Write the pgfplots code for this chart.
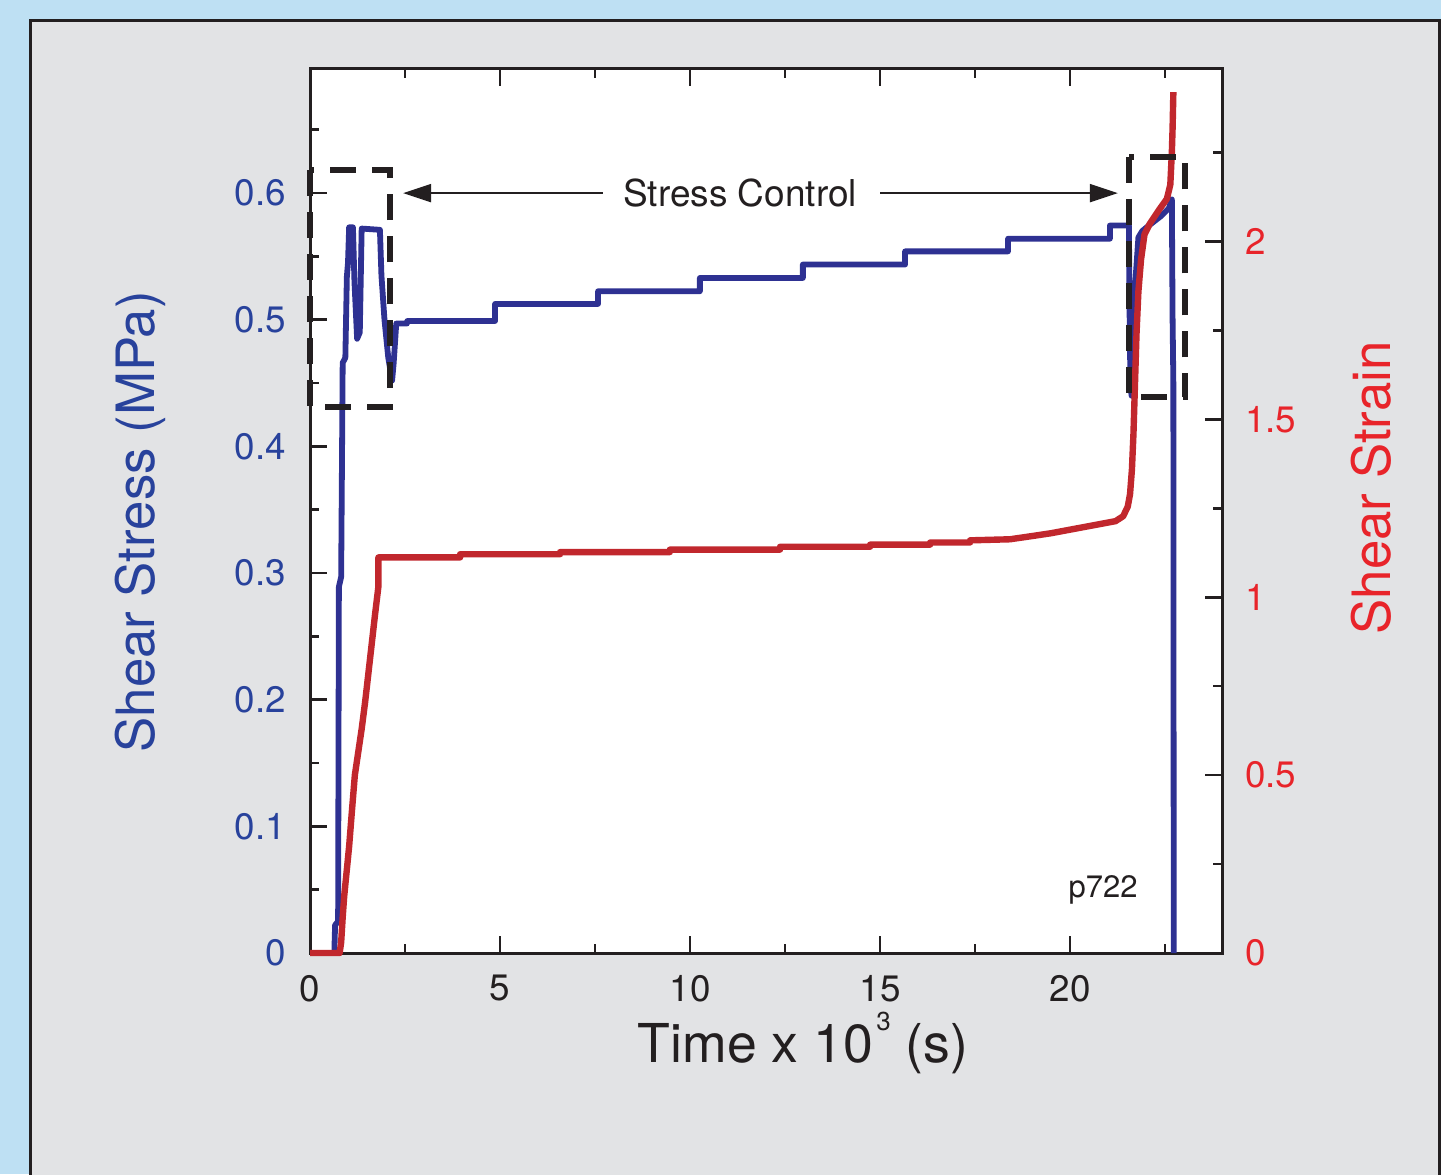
\documentclass[border=0pt]{standalone}
\usepackage{fontspec}
\setmainfont{TeX Gyre Heros}
\usepackage{pgfplots}
\pgfplotsset{compat=1.18}
\usetikzlibrary{arrows.meta}
\definecolor{bgblue}{RGB}{190,224,243}
\definecolor{panel}{RGB}{226,227,229}
\definecolor{frame}{RGB}{35,31,32}
\definecolor{lineblue}{RGB}{46,49,146}
\definecolor{textblue}{RGB}{40,66,156}
\definecolor{linered}{RGB}{193,39,45}
\definecolor{textred}{RGB}{232,36,42}
\begin{document}
\begin{tikzpicture}[x=0.5pt,y=0.5pt]
\useasboundingbox (0,0) rectangle (1441,1174);
\fill[bgblue] (0,0) rectangle (1441,1174);
\fill[panel] (30.5,-10) rectangle (1439.7,1153.5);
\draw[frame,line width=1.5pt] (30.5,-10) -- (30.5,1153.5) -- (1439.7,1153.5) -- (1439.7,-10);
\pgfplotsset{
  every axis/.append style={
    at={(155pt,110.5pt)}, anchor=south west, scale only axis,
    width=456pt, height=442pt, xmin=0, xmax=24, clip=false,
    axis line style={frame, line width=1.5pt},
    tick style={frame, line width=1.3pt},
    major tick length=8.5pt, minor tick length=4.5pt,
    tick align=inside,
    tick label style={font=\fontsize{18.4}{20}\selectfont},
    /pgf/number format/assume math mode=true,
  }
}
\begin{axis}[
  axis background/.style={fill=white},
  ymin=0, ymax=0.698,
  xtick={0,5,10,15,20}, minor xtick={2.5,7.5,12.5,17.5,22.5},
  ytick={0,0.1,0.2,0.3,0.4,0.5,0.6}, minor ytick={0.05,0.15,0.25,0.35,0.45,0.55,0.65},
  xtick pos=both, ytick pos=left,
  xticklabel style={yshift=-7.5pt, text=frame},
  yticklabel style={xshift=-8.5pt, text=textblue, /pgf/number format/.cd, fixed, precision=1},
]
\addplot[lineblue, line width=2.9pt, line join=round] coordinates {
(0,0) (0.64,0) (0.66,0.022) (0.74,0.025) (0.76,0.289) (0.82,0.297) (0.86,0.466) (0.93,0.47) (0.97,0.534) (1.0,0.545) (1.03,0.573) (1.13,0.573) (1.17,0.53) (1.24,0.485) (1.31,0.49) (1.36,0.572) (1.84,0.571) (1.88,0.535) (1.96,0.50) (2.06,0.47) (2.16,0.452) (2.2,0.465) (2.27,0.497) (2.55,0.497) (2.56,0.499) (4.87,0.499) (4.87,0.5125) (7.58,0.5125) (7.58,0.5225) (10.26,0.5225) (10.26,0.533) (12.97,0.533) (12.97,0.5436) (15.66,0.5436) (15.66,0.554) (18.37,0.554) (18.37,0.564) (21.05,0.564) (21.05,0.5744) (21.55,0.5744) (21.57,0.50) (21.59,0.45) (21.62,0.44) (21.66,0.47) (21.72,0.53) (21.8,0.565) (21.9,0.570) (22.1,0.575) (22.4,0.582) (22.6,0.588) (22.68,0.595) (22.70,0.50) (22.72,0.45) (22.73,0)
};
\node[rotate=90, anchor=base, text=textblue, font=\fontsize{26.4}{28}\selectfont] at (axis description cs:-0.17,0.4876) {Shear Stress (MPa)};
\node[anchor=base, text=frame, font=\fontsize{26.8}{28}\selectfont] at (axis description cs:0.5406,-0.1233) {Time x 10\kern1.5pt\raisebox{16pt}{\fontsize{13}{13}\selectfont 3} (s)};
\end{axis}
\begin{axis}[
  ymin=0, ymax=2.485,
  axis y line*=right, axis x line=none,
  ytick={0,0.5,1,1.5,2}, minor ytick={0.25,0.75,1.25,1.75,2.25},
  ytick pos=right,
  yticklabel style={xshift=8pt, text=textred},
]
\addplot[linered, line width=3.2pt, line join=round] coordinates {
(0,0) (0.78,0) (0.82,0.03) (0.86,0.10) (0.90,0.16) (0.97,0.235) (1.03,0.30) (1.10,0.395) (1.18,0.50) (1.27,0.565) (1.36,0.63) (1.45,0.705) (1.53,0.78) (1.62,0.865) (1.71,0.95) (1.80,1.03) (1.80,1.112) (3.95,1.112) (3.95,1.121) (6.58,1.121) (6.58,1.127) (9.47,1.127) (9.47,1.134) (12.37,1.134) (12.37,1.142) (14.74,1.142) (14.74,1.148) (16.32,1.148) (16.32,1.154) (17.37,1.154) (17.37,1.160) (18.42,1.163) (19.0,1.172) (19.5,1.18) (20.0,1.19) (20.5,1.2) (20.9,1.208) (21.2,1.214) (21.4,1.228) (21.52,1.255) (21.58,1.29) (21.63,1.36) (21.67,1.46) (21.71,1.6) (21.75,1.74) (21.80,1.86) (21.87,1.95) (21.96,2.02) (22.1,2.05) (22.35,2.09) (22.55,2.12) (22.64,2.16) (22.68,2.25) (22.70,2.32) (22.72,2.42)
};
% dashed boxes (strain units = stress * 2.485/0.698)
\draw[frame, line width=3pt, dash pattern=on 13pt off 8pt] (axis cs:0,2.200) rectangle (axis cs:2.105,1.534);
\draw[frame, line width=3pt, dash pattern=on 13pt off 8pt] (axis cs:21.55,2.238) rectangle (axis cs:23.03,1.563);
\draw[frame, line width=1pt, -{Triangle[length=14pt,width=9pt]}] (axis cs:7.7,2.136) -- (axis cs:2.45,2.136);
\draw[frame, line width=1pt, -{Triangle[length=14pt,width=9pt]}] (axis cs:15.0,2.136) -- (axis cs:21.26,2.136);
\node[text=frame, font=\fontsize{18.5}{20}\selectfont] at (axis cs:11.32,2.136) {Stress Control};
\node[text=frame, font=\fontsize{15.5}{17}\selectfont] at (axis cs:20.87,0.177) {p722};
\node[rotate=90, anchor=base, text=textred, font=\fontsize{26.4}{28}\selectfont] at (axis description cs:1.1842,0.526) {Shear Strain};
\end{axis}
\end{tikzpicture}
\end{document}
